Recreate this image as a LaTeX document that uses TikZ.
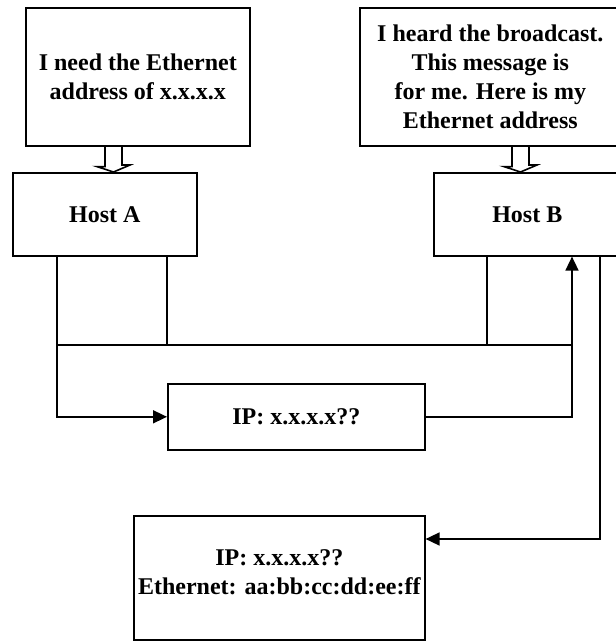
\documentclass[tikz,border=0pt]{standalone}
\usepackage{fontspec}
\setmainfont{Liberation Serif}
\usetikzlibrary{arrows.meta,calc}
\begin{document}
\begin{tikzpicture}[x=1pt,y=-1pt,
  txt/.style={align=center, font=\bfseries\fontsize{24}{29}\selectfont},
  box/.style={draw, line width=1.6pt, inner sep=0pt, txt, anchor=north west},
  wire/.style={line width=1.6pt},
  arr/.style={wire, -{Triangle[length=14pt,width=13pt]}},
  hollow/.style={line width=1.6pt, line join=miter}]
\useasboundingbox (0,0) rectangle (616,641);
\clip (0,0) rectangle (616,641);

% message boxes and hosts
\node[box, minimum width=224, minimum height=138] (q1) at (25,7)
  {I need the Ethernet\\address of x.x.x.x};
\node[box, minimum width=261, minimum height=138] (q2) at (359,7)
  {I heard the broadcast.\\This message is\\for me. Here is my\\Ethernet address};
\node[box, minimum width=184, minimum height=83] (hA) at (12,172) {Host A};
\node[box, minimum width=187, minimum height=83] (hB) at (433,172) {Host B};
\node[box, minimum width=257, minimum height=66] (ip) at (167,383) {IP: x.x.x.x??};
\node[box, minimum width=291, minimum height=124,
  label={[txt, yshift=6pt]center:IP: x.x.x.x??\\Ethernet: aa:bb:cc:dd:ee:ff}]
  (res) at (133,515) {};

% hollow block arrows from the messages to the hosts
\draw[hollow] ($(q1.south west)+(80,0)$) -- ++(0,20) -- ++(-8,0)
  -- ($(hA.north west)+(101.5,0)$) -- ++(16.5,-7) -- ++(-8,0) -- ++(0,-20);
\draw[hollow] ($(q2.south west)+(153,0)$) -- ++(0,20) -- ++(-8,0)
  -- ($(hB.north west)+(87.5,0)$) -- ++(16.5,-7) -- ++(-8,0) -- ++(0,-20);

% shared bus
\coordinate (busL) at (57,345);
\coordinate (busR) at (572,345);
\coordinate (dropA) at (167,345);
\coordinate (dropB) at (487,345);
\coordinate (back) at (600,345);

\draw[wire] (busL) -- (busR);
\draw[wire] (hA.south -| dropA) -- (dropA);
\draw[wire] (hB.south -| dropB) -- (dropB);

% request broadcast from Host A, answer path to Host B
\draw[arr] (hA.south -| busL) |- (ip.west);
\draw[arr] (ip.east) -| (hB.south -| busR);

% reply from Host B
\draw[arr] (hB.south -| back) |- ([yshift=-24pt]res.north east);
\end{tikzpicture}
\end{document}
